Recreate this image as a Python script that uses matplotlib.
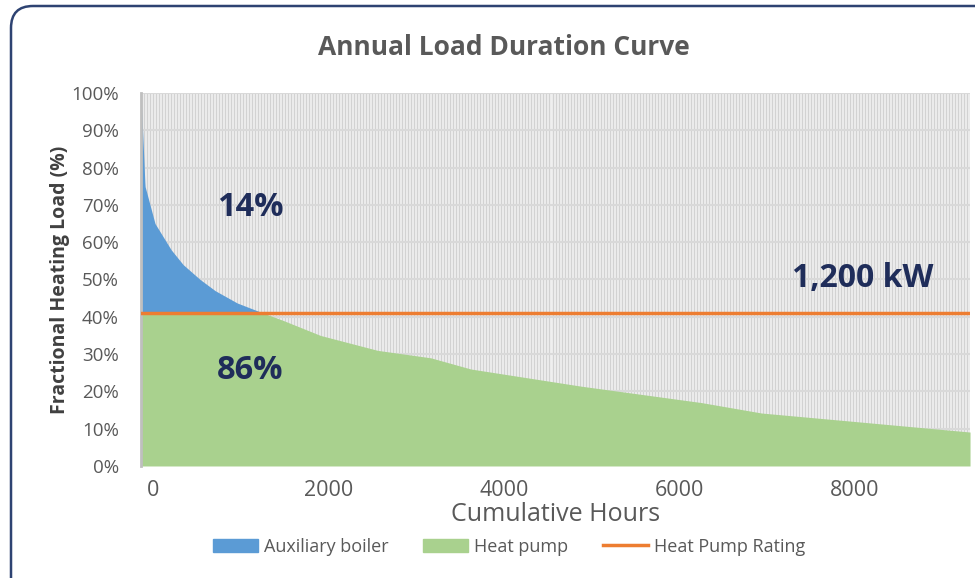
import numpy as np
import matplotlib.pyplot as plt
from matplotlib.patches import FancyBboxPatch, Patch
from matplotlib.lines import Line2D
from matplotlib.transforms import IdentityTransform

# load duration curve (hours, % of peak)
hours = [-137, -91, 23, 206, 343, 537, 709, 960, 1223, 1486, 1909, 2560,
         3166, 3623, 4880, 6251, 6937, 7966, 9314]
load = [100, 75, 65, 58, 54, 50, 47, 43.7, 41.3, 39, 35, 31,
        29, 26, 21.4, 17, 14.2, 12, 9.1]
rating = 41.0
xticks = [0, 2000, 4000, 6000, 8000]

blue = '#5b9bd5'
green = '#a9d18e'
orange = '#ed7d31'
navy = '#1f2d5a'
grey = '#595959'

# densify for stacked areas
xs = np.linspace(hours[0], hours[-1], 3000)
ys = np.interp(xs, hours, load)
hp = np.minimum(ys, rating)

fig = plt.figure(figsize=(9.75, 5.78), dpi=100)
plt.rcParams['font.family'] = ['Open Sans', 'DejaVu Sans']
ax = fig.add_axes([0.1446, 0.1938, 0.8503, 0.6453])
ax.set_facecolor('#efefef')

xmin, xmax = hours[0], hours[-1]
ax.vlines(np.linspace(xmin, xmax, 277), 0, 1, transform=ax.get_xaxis_transform(),
          color='#d2d2d2', lw=0.9, zorder=0.5)
for v in range(10, 101, 10):
    ax.axhline(v, color='#d9d9d9', lw=1.5, zorder=0.6)

ax.fill_between(xs, 0, hp, color=green, lw=0, zorder=2)
ax.fill_between(xs, hp, ys, color=blue, lw=0, zorder=2)
ax.axhline(rating, color=orange, lw=2.5, zorder=3)

ax.set_xlim(xmin, xmax)
ax.set_ylim(0, 100)
ax.set_yticks(range(0, 101, 10))
ax.set_yticklabels([f'{v}%' for v in range(0, 101, 10)], color=grey, fontsize=13.5)
ax.set_xticks(xticks)
ax.set_xticklabels([str(v) for v in xticks], color=grey, fontsize=15.5)
ax.tick_params(axis='x', length=0, pad=10)
ax.tick_params(axis='y', length=0, pad=16)
for s in ['top', 'right', 'bottom']:
    ax.spines[s].set_visible(False)
ax.spines['left'].set_color('#bfbfbf')
ax.spines['left'].set_linewidth(2)

ax.set_xlabel('Cumulative Hours', color=grey, fontsize=18, labelpad=1)
ax.set_ylabel('Fractional Heating Load (%)', color='#404040', fontsize=14,
              fontweight='bold', labelpad=1)

ax.text(1109, 69.4, '14%', color=navy, fontsize=23.5, fontweight='bold', ha='center', va='center')
ax.text(1109, 25.7, '86%', color=navy, fontsize=23.5, fontweight='bold', ha='center', va='center')
ax.text(8091, 50.3, '1,200 kW', color=navy, fontsize=23, fontweight='bold', ha='center', va='center')

fig.text(0.517, 0.917, 'Annual Load Duration Curve', color=grey, fontsize=19,
         fontweight='bold', ha='center', va='center')

handles = [Patch(color=blue, label='Auxiliary boiler'),
           Patch(color=green, label='Heat pump'),
           Line2D([0], [0], color=orange, lw=2.5, label='Heat Pump Rating')]
fig.legend(handles=handles, loc='center', bbox_to_anchor=(0.522, 0.054), ncol=3,
           frameon=False, fontsize=13, labelcolor=grey, handlelength=2.5,
           handleheight=0.7, columnspacing=1.9, handletextpad=0.33)

frame = FancyBboxPatch((11, -40), 1000, 612, boxstyle='round,pad=0,rounding_size=22',
                       transform=IdentityTransform(), fill=False, ec='#2e4372', lw=1.8)
fig.add_artist(frame)

fig.savefig('out.png', dpi=100)
